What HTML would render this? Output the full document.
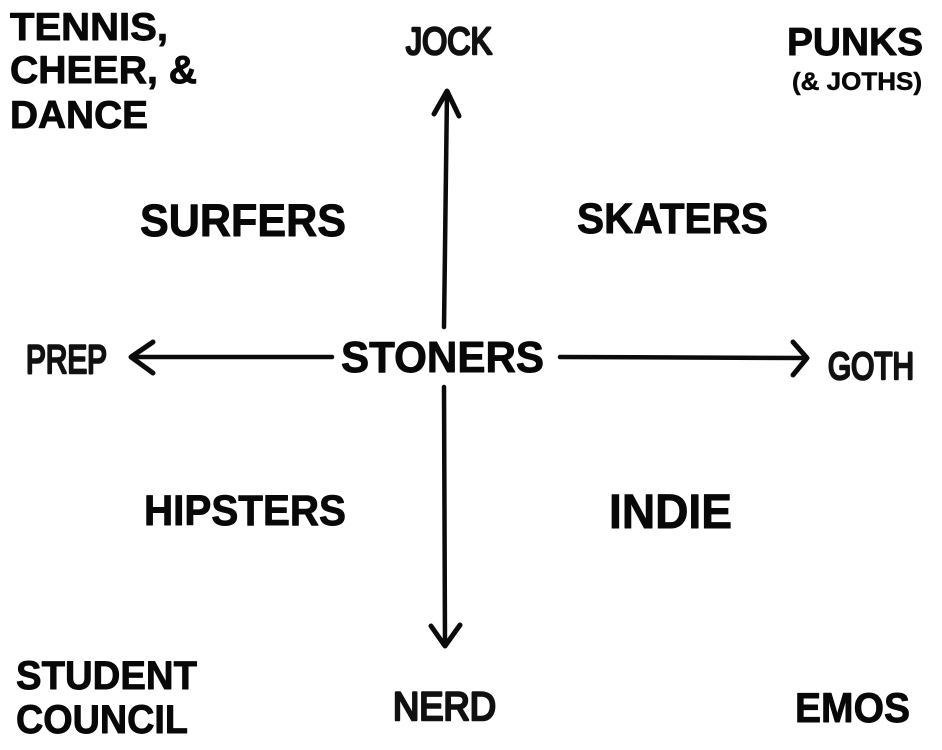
<!DOCTYPE html>
<html>
<head>
<meta charset="utf-8">
<style>
  html, body { margin: 0; padding: 0; background: #ffffff; }
  body { width: 942px; height: 750px; overflow: hidden; }
  svg { display: block; }
  .b { font-family: "Liberation Sans", Arial, sans-serif; font-weight: bold; fill: #080808; stroke: #080808; stroke-width: 0.9; stroke-linejoin: round; }
  .h { font-family: "Liberation Sans", Arial, sans-serif; font-weight: normal; fill: #111; stroke: #111; stroke-width: 2.6; stroke-linejoin: round; stroke-linecap: round; }
</style>
</head>
<body>
<svg width="942" height="750" viewBox="0 0 942 750" xmlns="http://www.w3.org/2000/svg">
  <rect width="942" height="750" fill="#ffffff"/>

  <!-- axes -->
  <g fill="none" stroke="#0b0b0b" stroke-linecap="round" stroke-linejoin="round">
    <path d="M447 92 L444 327" stroke-width="4.5"/>
    <path d="M434 114 L447 91 L459 116" stroke-width="5"/>
    <path d="M444 387 L445 645" stroke-width="4.5"/>
    <path d="M431 626 L445 646 L460 625" stroke-width="5"/>
    <path d="M132 357 L332 357" stroke-width="4.5"/>
    <path d="M153 342 L131 357 L153 373" stroke-width="5"/>
    <path d="M560 357 L806 358" stroke-width="4.5"/>
    <path d="M793 342 L807 358 L793 375" stroke-width="5"/>
  </g>

  <!-- corner labels -->
  <text class="b" x="10" y="40" font-size="39" textLength="158" lengthAdjust="spacingAndGlyphs">TENNIS,</text>
  <text class="b" x="10" y="83" font-size="39" textLength="187" lengthAdjust="spacingAndGlyphs">CHEER, &amp;</text>
  <text class="b" x="10" y="128" font-size="39" textLength="138" lengthAdjust="spacingAndGlyphs">DANCE</text>

  <text class="b" x="787" y="55" font-size="39" textLength="136" lengthAdjust="spacingAndGlyphs">PUNKS</text>
  <text class="b" x="792" y="90" font-size="25" textLength="130" lengthAdjust="spacingAndGlyphs" style="stroke-width:0.5">(&amp; JOTHS)</text>

  <text class="b" x="16" y="689" font-size="40" textLength="181" lengthAdjust="spacingAndGlyphs">STUDENT</text>
  <text class="b" x="16" y="733" font-size="40" textLength="172" lengthAdjust="spacingAndGlyphs">COUNCIL</text>

  <text class="b" x="795" y="722" font-size="42" textLength="115" lengthAdjust="spacingAndGlyphs">EMOS</text>

  <!-- quadrant labels -->
  <text class="b" x="140" y="236" font-size="45" textLength="206" lengthAdjust="spacingAndGlyphs">SURFERS</text>
  <text class="b" x="577" y="233" font-size="43" textLength="191" lengthAdjust="spacingAndGlyphs">SKATERS</text>
  <text class="b" x="144" y="525" font-size="43" textLength="202" lengthAdjust="spacingAndGlyphs">HIPSTERS</text>
  <text class="b" x="609" y="528" font-size="48" textLength="123" lengthAdjust="spacingAndGlyphs">INDIE</text>

  <text class="b" x="341" y="372" font-size="44" textLength="203" lengthAdjust="spacingAndGlyphs">STONERS</text>

  <!-- hand-drawn axis labels -->
  <text class="h" x="406" y="54" font-size="38" textLength="86" lengthAdjust="spacingAndGlyphs">JOCK</text>
  <text class="h" x="26" y="373" font-size="40" textLength="81" lengthAdjust="spacingAndGlyphs">PREP</text>
  <text class="h" x="828" y="379" font-size="38" textLength="86" lengthAdjust="spacingAndGlyphs">GOTH</text>
  <text class="h" x="393" y="720" font-size="40" textLength="103" lengthAdjust="spacingAndGlyphs">NERD</text>
</svg>
</body>
</html>
